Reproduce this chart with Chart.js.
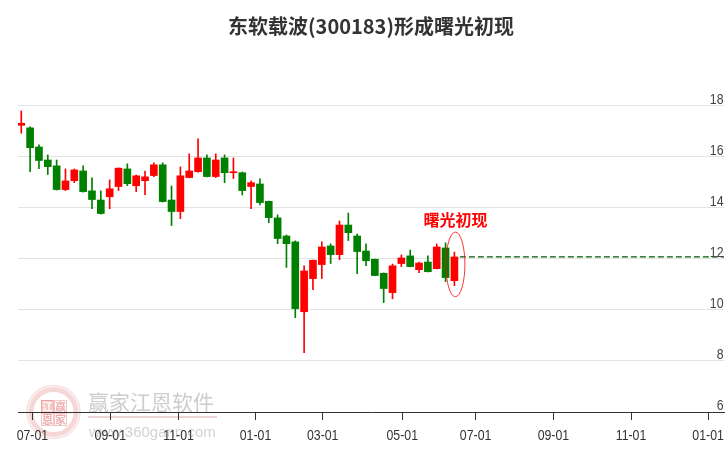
<!DOCTYPE html>
<html>
<head>
<meta charset="utf-8">
<script src="https://cdn.jsdelivr.net/npm/chart.js@4.4.1/dist/chart.umd.min.js"></script>
<style>
html,body{margin:0;padding:0;background:#fff;}
#wrap{width:726px;height:450px;}
</style>
</head>
<body>
<div id="wrap"><canvas id="c" width="726" height="450"></canvas></div>
<script>
// ---- data (weekly candles) ----
const titleText = '东软载波(300183)形成曙光初现';
const signalLabel = '曙光初现';
const opens  = [17.24,17.14,16.39,15.88,15.65,14.72,15.07,15.45,14.67,14.31,
                14.44,14.84,15.53,14.87,15.07,15.27,15.69,14.31,13.86,15.19,
                15.42,15.96,15.23,15.96,15.38,15.38,14.84,14.94,14.26,13.61,
                12.90,12.67, 9.93,11.23,11.78,12.51,12.17,13.33,12.90,12.31,
                11.99,11.44,10.68,11.82,12.12,11.58,11.88,11.62,12.43,11.15];
const closes = [17.32,16.36,15.86,15.62,14.72,15.06,15.49,14.64,14.33,13.78,
                14.75,15.56,14.95,15.26,15.22,15.69,14.25,13.86,15.26,15.45,
                15.96,15.23,15.88,15.38,15.42,14.68,14.99,14.21,13.62,12.80,
                12.60,10.05,11.53,11.95,12.47,12.17,13.33,13.03,12.29,11.93,
                11.35,10.84,11.73,12.04,11.70,11.84,11.50,12.47,11.27,12.08];
const highs  = [17.80,17.18,16.47,16.08,15.88,15.53,15.53,15.65,15.18,14.67,
                15.10,15.57,15.73,15.29,15.45,15.77,15.77,14.86,15.61,16.12,
                16.71,16.08,16.12,16.08,15.96,15.41,15.06,15.14,14.27,13.73,
                12.94,12.71,11.73,11.96,12.67,12.59,13.49,13.80,12.98,12.59,
                12.00,11.45,11.80,12.16,12.35,11.88,12.12,12.59,12.63,12.27];
const lows   = [16.93,15.42,15.54,15.31,14.70,14.68,14.99,14.62,13.97,13.76,
                13.97,14.68,14.87,14.64,14.52,15.23,14.23,13.31,13.58,15.18,
                15.40,15.22,15.19,14.99,15.15,14.51,13.97,14.12,13.42,12.60,
                11.67,9.70, 8.33,10.80,11.23,11.82,11.97,12.72,11.42,11.74,
                11.34,10.29,10.44,11.70,11.69,11.46,11.49,11.61,11.11,10.95];
// month ticks on the week axis (trading-time based)
const monthTickPos    = [1.26, 10.07, 17.8, 26.5, 34.1, 43.1, 51.4, 60.2, 68.98, 77.7];
const monthTickLabels = ['07-01','09-01','11-01','01-01','03-01','05-01','07-01','09-01','11-01','01-01'];
const priceTicks = [6, 8, 10, 12, 14, 16, 18];

// ---- derived ----
const n = closes.length;
const X_MIN = -0.37, X_MAX = 79.5, Y_MIN = 6, Y_MAX = 19.8;
const UP = '#ff0000', DOWN = '#008000';
const colors = closes.map((c, i) => c >= opens[i] ? UP : DOWN);
const wickData = closes.map((_, i) => ({x: i, y: [lows[i], highs[i]]}));
const bodyData = closes.map((_, i) => ({x: i, y: [opens[i], closes[i]]}));
const lastClose = closes[n - 1];
const refLine = [{x: n - 1 + 0.62, y: lastClose}, {x: X_MAX, y: lastClose}];

const LABEL_FONT = "14.5px 'Liberation Sans', Arial, sans-serif";
const NARROW = 0.85;

const watermark = {
  id: 'watermark',
  beforeDraw(chart) {
    const ctx = chart.ctx;
    ctx.save();
    // logo ring
    ctx.strokeStyle = 'rgba(232,150,150,0.38)';
    ctx.lineWidth = 5;
    ctx.beginPath(); ctx.arc(53.5, 412, 22.5, 0, Math.PI * 2); ctx.stroke();
    ctx.lineWidth = 1.5;
    ctx.strokeStyle = 'rgba(232,150,150,0.3)';
    ctx.beginPath(); ctx.arc(53.5, 412, 26.5, 0, Math.PI * 2); ctx.stroke();
    // 2x2 cells
    const cells = [['江', 41, 400, true], ['赢', 54, 400, false], ['恩', 41, 413, false], ['家', 54, 413, false]];
    ctx.font = "bold 11px 'Noto Sans CJK SC'";
    ctx.textAlign = 'center'; ctx.textBaseline = 'middle';
    cells.forEach(([t, x, y, fill]) => {
      if (fill) { ctx.fillStyle = 'rgba(232,140,140,0.5)'; ctx.fillRect(x, y, 12.5, 12.5); }
      ctx.strokeStyle = 'rgba(232,140,140,0.5)'; ctx.lineWidth = 1;
      ctx.strokeRect(x + 0.5, y + 0.5, 12, 12);
      ctx.fillStyle = fill ? 'rgba(255,255,255,0.95)' : 'rgba(225,120,120,0.6)';
      ctx.fillText(t, x + 6.5, y + 7);
    });
    // text
    ctx.textAlign = 'left'; ctx.textBaseline = 'alphabetic';
    ctx.fillStyle = '#cdcdcd';
    ctx.font = "21px 'Noto Sans CJK SC'";
    ctx.fillText('赢家江恩软件', 88, 410);
    ctx.strokeStyle = 'rgba(225,185,185,0.6)';
    ctx.lineWidth = 2;
    ctx.beginPath(); ctx.moveTo(88, 417); ctx.lineTo(217, 417); ctx.stroke();
    ctx.fillStyle = '#d2d2d2';
    ctx.font = "15px 'Liberation Sans', Arial, sans-serif";
    ctx.fillText('www.360gann.com', 89, 437);
    ctx.restore();
  }
};

// tick labels, placed through the chart's own scales (narrow face emulated)
const axisLabels = {
  id: 'axisLabels',
  afterDraw(chart) {
    const ctx = chart.ctx, xs = chart.scales.x, ys = chart.scales.y;
    ctx.save();
    ctx.font = LABEL_FONT;
    ctx.textBaseline = 'alphabetic';
    ctx.fillStyle = '#333';
    ctx.textAlign = 'center';
    monthTickPos.forEach((v, k) => {
      ctx.save();
      ctx.translate(xs.getPixelForValue(v), xs.top + 28);
      ctx.scale(NARROW, 1);
      ctx.fillText(monthTickLabels[k], 0, 0);
      ctx.restore();
    });
    ctx.fillStyle = '#444';
    ctx.textAlign = 'right';
    priceTicks.forEach(v => {
      ctx.save();
      ctx.translate(chart.chartArea.right - 0.5, ys.getPixelForValue(v) - 2);
      ctx.scale(NARROW, 1);
      ctx.fillText(String(v), 0, 0);
      ctx.restore();
    });
    ctx.restore();
  }
};

const signalMark = {
  id: 'signalMark',
  afterDatasetsDraw(chart) {
    const ctx = chart.ctx, xs = chart.scales.x, ys = chart.scales.y;
    const i = n - 1;
    const cx = xs.getPixelForValue(i) + 1;
    const top = ys.getPixelForValue(highs[i]) - 20;
    const bot = ys.getPixelForValue(lows[i]) + 11;
    ctx.save();
    ctx.strokeStyle = 'rgba(255,0,0,0.8)';
    ctx.lineWidth = 1;
    ctx.beginPath();
    ctx.ellipse(cx, (top + bot) / 2, 9.5, (bot - top) / 2, 0, 0, Math.PI * 2);
    ctx.stroke();
    ctx.fillStyle = '#ff0000';
    ctx.font = "bold 16px 'Noto Sans CJK SC'";
    ctx.textAlign = 'center'; ctx.textBaseline = 'middle';
    ctx.fillText(signalLabel, cx, top - 12);
    ctx.restore();
  }
};

new Chart(document.getElementById('c'), {
  type: 'bar',
  data: {
    datasets: [
      {type: 'line', data: refLine, borderColor: '#005a00', borderWidth: 1.2, borderDash: [6, 3],
       pointRadius: 0, fill: false, order: 0},
      {data: bodyData, backgroundColor: colors, barThickness: 7, minBarLength: 1, order: 1, borderWidth: 0},
      {data: wickData, backgroundColor: colors, barThickness: 1, order: 2, borderWidth: 0}
    ]
  },
  options: {
    responsive: false,
    animation: false,
    events: [],
    layout: {padding: {left: 18, right: 2, top: 0, bottom: 30}},
    datasets: {bar: {grouped: false}},
    plugins: {
      legend: {display: false},
      tooltip: {enabled: false},
      title: {
        display: true, text: titleText, color: '#333',
        font: {family: "'Noto Sans CJK SC'", size: 20, weight: 'bold'},
        padding: {top: 14.5, bottom: 21.5}
      }
    },
    scales: {
      x: {
        type: 'linear', min: X_MIN, max: X_MAX, offset: false,
        afterBuildTicks: s => { s.ticks = monthTickPos.map(v => ({value: v})); },
        ticks: {display: false},
        grid: {drawOnChartArea: false, drawTicks: true, tickLength: 8, color: '#333', offset: false},
        border: {color: '#333', width: 1}
      },
      y: {
        type: 'linear', position: 'right', min: Y_MIN, max: Y_MAX,
        afterBuildTicks: s => { s.ticks = priceTicks.map(v => ({value: v})); },
        ticks: {display: false},
        grid: {color: '#e3e3e3', drawTicks: false},
        border: {display: false}
      }
    }
  },
  plugins: [watermark, axisLabels, signalMark]
});
</script>
</body>
</html>
